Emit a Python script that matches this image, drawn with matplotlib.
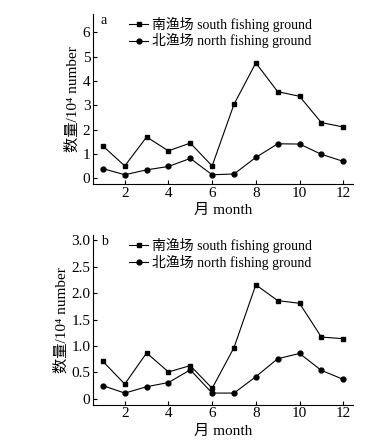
import numpy as np
import matplotlib.pyplot as plt

plt.rcParams['font.family'] = ['Liberation Serif', 'Noto Sans CJK SC']

# Data
months = [1, 2, 3, 4, 5, 6, 7, 8, 9, 10, 11, 12]
south_a = [1.33, 0.51, 1.70, 1.13, 1.45, 0.51, 3.04, 4.74, 3.56, 3.37, 2.29, 2.11]
north_a = [0.40, 0.15, 0.35, 0.49, 0.82, 0.15, 0.18, 0.86, 1.42, 1.41, 0.99, 0.70]
south_b = [0.71, 0.28, 0.87, 0.51, 0.63, 0.20, 0.97, 2.16, 1.86, 1.81, 1.17, 1.14]
north_b = [0.25, 0.11, 0.23, 0.31, 0.55, 0.11, 0.11, 0.42, 0.76, 0.86, 0.54, 0.37]

xticks = [2, 4, 6, 8, 10, 12]
yticks_a = [0, 1, 2, 3, 4, 5, 6]
yticks_b = [0, 0.5, 1.0, 1.5, 2.0, 2.5, 3.0]
yticklabels_b = ['0', '0.5', '1.0', '1.5', '2.0', '2.5', '3.0']

fig = plt.figure(figsize=(3.8, 4.44), dpi=100)
ax1 = fig.add_axes([0.245, 0.5856, 0.684, 0.383])
ax2 = fig.add_axes([0.245, 0.0885, 0.684, 0.382])

panels = [
    (ax1, south_a, north_a, 'a', (-0.23, 6.75), yticks_a, None),
    (ax2, south_b, north_b, 'b', (-0.11, 3.1), yticks_b, yticklabels_b),
]

for ax, s, n, tag, ylim, yt, ytl in panels:
    ax.plot(months, s, color='black', lw=0.8, marker='s', ms=3.5,
            label='南渔场 south fishing ground')
    ax.plot(months, n, color='black', lw=0.8, marker='o', ms=3.5,
            label='北渔场 north fishing ground')
    ax.set_xlim(0.55, 12.45)
    ax.set_ylim(*ylim)
    ax.set_xticks(xticks)
    ax.set_yticks(yt)
    if ytl:
        ax.set_yticklabels(ytl)
    ax.spines['top'].set_visible(False)
    ax.spines['right'].set_visible(False)
    for sp in ax.spines.values():
        sp.set_linewidth(0.8)
    ax.tick_params(direction='in', length=3, width=0.8, labelsize=11, pad=2)
    ax.set_xlabel('月 month', fontsize=11, labelpad=3)
    ax.set_ylabel('数量/10⁴ number', fontsize=11, labelpad=2)
    ax.text(0.03, 1.0, tag, transform=ax.transAxes, fontsize=10,
            va='top', ha='left')
    ax.legend(loc='upper left', bbox_to_anchor=(0.1, 1.04), frameon=False,
              fontsize=10, handlelength=1.4, handletextpad=0.3,
              labelspacing=0.1, borderpad=0.2)

fig.savefig('out.png', dpi=100)
